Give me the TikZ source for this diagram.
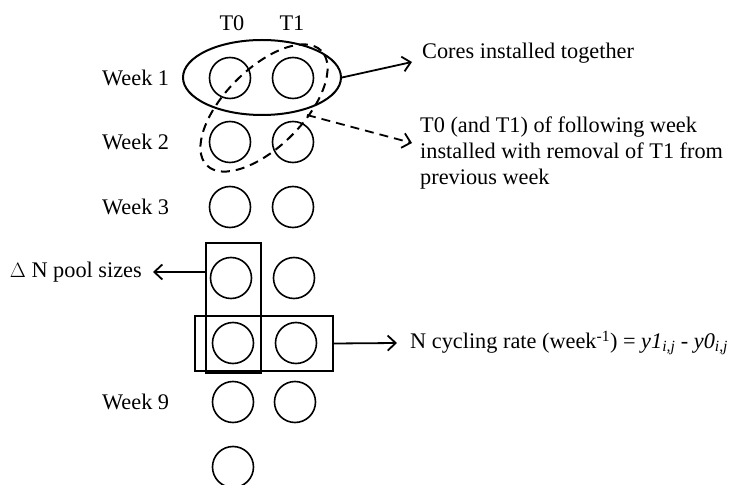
\documentclass[tikz,border=0pt]{standalone}
\usepackage{fontspec}
\setmainfont{Liberation Serif}
\usetikzlibrary{arrows.meta,shapes.geometric}
\begin{document}
\begin{tikzpicture}[x=1pt,y=1pt,
  core/.style={draw,circle,line width=1.6pt,minimum size=41pt,inner sep=0pt},
  lbl/.style={inner sep=0pt,font=\fontsize{22.3}{26}\selectfont},
  boxr/.style={draw,line width=1.5pt,inner sep=0pt},
  conn/.style={line width=1.8pt,-{Straight Barb[length=8pt,width=15pt,line width=1.8pt]}},
  dsh/.style={dash pattern=on 9pt off 6pt}]
\useasboundingbox (0,0) rectangle (737,485);
% column labels
\node[lbl] (t0) at (232,462) {T0};
\node[lbl] (t1) at (292,462) {T1};
% week labels
\node[lbl,anchor=west] (w1) at (102,407) {Week 1};
\node[lbl,anchor=west] (w2) at (102,343) {Week 2};
\node[lbl,anchor=west] (w3) at (102,278) {Week 3};
\node[lbl,anchor=west] (w9) at (102,83) {Week 9};
% cores
\node[core] (c10) at (230,407) {};
\node[core] (c11) at (293,407) {};
\node[core] (c20) at (230,343) {};
\node[core] (c21) at (293,343) {};
\node[core] (c30) at (230,278) {};
\node[core] (c31) at (293,278) {};
\node[core] (c40) at (231,207) {};
\node[core] (c41) at (294,207) {};
\node[core] (c50) at (233,142) {};
\node[core] (c51) at (296,142) {};
\node[core] (c60) at (233,83) {};
\node[core] (c61) at (295,83) {};
\node[core] (c70) at (233,18) {};
% groups
\node[draw,ellipse,line width=2pt,minimum width=158pt,minimum height=75pt,inner sep=0pt] (grp) at (262,407.5) {};
\node[draw,ellipse,line width=2pt,dsh,rotate=45,minimum width=162pt,minimum height=78pt,inner sep=0pt] (dgrp) at (264,377) {};
\node[boxr,minimum width=55pt,minimum height=130pt] (vbox) at (233.5,177) {};
\node[boxr,minimum width=138pt,minimum height=55pt] (hbox) at (264,141.5) {};
% annotations
\node[lbl,anchor=west] (cores) at (422,432) {Cores installed together};
\node[lbl,anchor=north west,align=left] (follow) at (420,368) {T0 (and T1) of following week\\installed with removal of T1 from\\previous week};
\node[lbl,anchor=east] (pool) at (142,213) {$\Delta$ N pool sizes};
\node[lbl,anchor=west] (rate) at (410,142) {N cycling rate (week\textsuperscript{-1}) = \textit{y1}\textsubscript{\textit{i,j}} - \textit{y0}\textsubscript{\textit{i,j}}};
\coordinate (dstart) at (307,370);
% connectors
\draw[conn] (grp.east) -- ([xshift=-10pt,yshift=-9pt]cores.west);
\draw[conn,dsh] (dstart) -- ([xshift=-8pt]follow.west |- 0,342);
\draw[conn] (vbox.west |- pool.east) -- ([xshift=11pt]pool.east);
\draw[conn] (hbox.east) -- ([xshift=-13pt]rate.west);
\end{tikzpicture}
\end{document}
